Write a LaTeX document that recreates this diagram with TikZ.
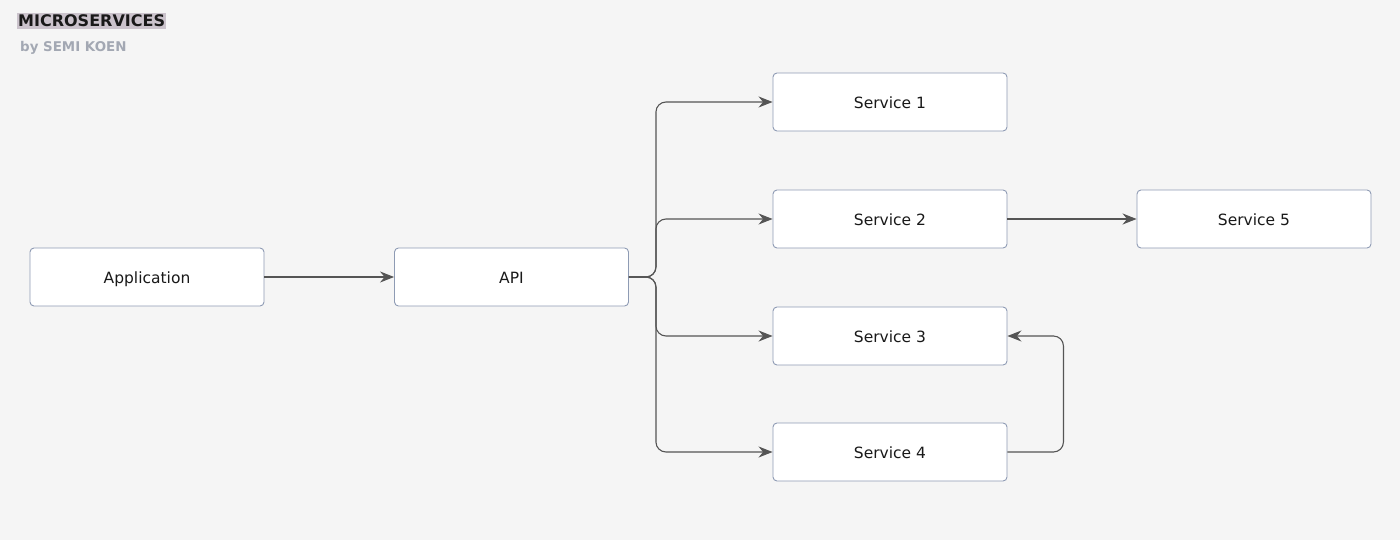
\documentclass[tikz,border=0pt]{standalone}
\usepackage{fontspec}
\setmainfont{DejaVu Sans}
\usetikzlibrary{arrows.meta}
\definecolor{bgc}{HTML}{F5F5F5}
\definecolor{boxline}{HTML}{8E9BB4}
\definecolor{conn}{HTML}{555555}
\definecolor{hl}{HTML}{CBC3CC}
\definecolor{subc}{HTML}{A3A8B3}
\tikzset{
  box/.style={draw=boxline, line width=0.9pt, fill=white, rounded corners=4pt,
    minimum width=234pt, minimum height=58pt, inner sep=0pt,
    text height=13pt, text depth=0pt,
    font=\fontsize{15.5}{17}\selectfont, text=black!90},
  conn/.style={draw=conn, line width=1.1pt, rounded corners=10pt,
    -{Stealth[length=14pt,width=11pt]}},
}
\begin{document}
\begin{tikzpicture}[x=1pt,y=-1pt]
\fill[bgc] (0,0) rectangle (1400,540);
\useasboundingbox (0,0) rectangle (1400,540);
\node[anchor=west, fill=hl, inner xsep=1pt, inner ysep=1.5pt, font=\bfseries\fontsize{16}{18}\selectfont, text=black!90] (title) at (17,21) {MICROSERVICES};
\node[anchor=west, inner sep=0pt, font=\bfseries\fontsize{13.4}{15}\selectfont, text=subc] (sub) at (20,48) {by SEMI KOEN};

\node[box] (app) at (147,277) {Application};
\node[box] (api) at (511.5,277) {API};
\node[box] (s1) at (890,102) {Service 1};
\node[box] (s2) at (890,219) {Service 2};
\node[box] (s3) at (890,336) {Service 3};
\node[box] (s4) at (890,452) {Service 4};
\node[box] (s5) at (1254,219) {Service 5};

\draw[conn] (app) -- (api);
\draw[conn] (api.east) -- ++(27,0) |- (s1.west);
\draw[conn] (api.east) -- ++(27,0) |- (s2.west);
\draw[conn] (api.east) -- ++(27,0) |- (s3.west);
\draw[conn] (api.east) -- ++(27,0) |- (s4.west);
\draw[conn] (s2) -- (s5);
\draw[conn] (s4.east) -- ++(56,0) |- (s3.east);
\end{tikzpicture}
\end{document}
